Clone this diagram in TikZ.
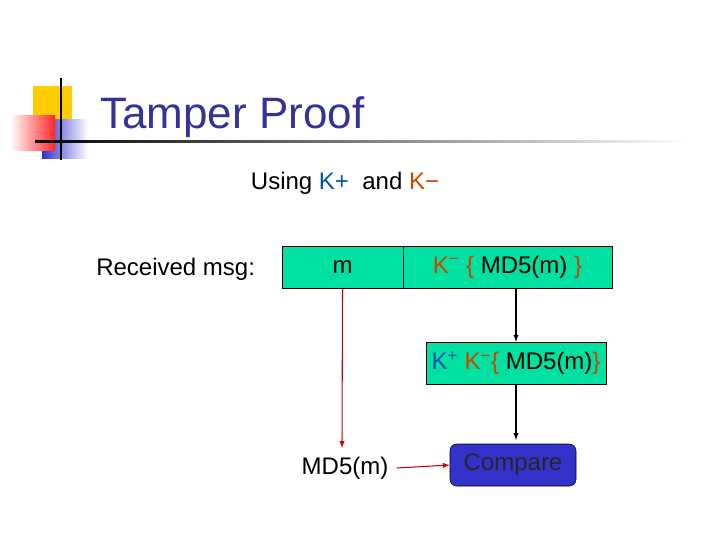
\documentclass[tikz,border=0pt]{standalone}
\usepackage{fontspec}
\setmainfont{Liberation Sans}
\begin{document}
\begin{tikzpicture}[x=0.75pt,y=-0.75pt,
  gbox/.style={draw,fill=green1,minimum height=31.5pt,inner sep=0pt,font=\fontsize{18}{21}\selectfont},
  arr/.style={-latex,thick},
  lbl/.style={font=\fontsize{18}{21}\selectfont,inner sep=0pt}]
\definecolor{green1}{HTML}{00E0A0}
\definecolor{titleblue}{HTML}{333399}
\definecolor{kred}{HTML}{CC4400}
\definecolor{kblue}{HTML}{0055AA}
\definecolor{cblue}{HTML}{3333CC}
\definecolor{gold}{HTML}{FFCC00}
\useasboundingbox (0,0) rectangle (720,540);
% logo
\fill[gold] (33,86) rectangle (72,125);
\shade[left color=cblue, right color=white] (42,119) rectangle (88,158);
\shade[left color=white, right color=red!85] (10,115) rectangle (55,150);
\draw[thick] (61,78) -- (61,160);
\shade[left color=black, right color=white] (35,140) rectangle (690,142);
\node[anchor=base west,text=titleblue,font=\fontsize{33}{38}\selectfont,inner sep=0pt] (title) at (100,128) {Tamper Proof};
\node[lbl,anchor=base] (using) at (345,189) {Using \textcolor{kblue}{K+}\ \ and \textcolor{kred}{K−}};
\node[lbl,anchor=base west] (rec) at (96,275) {Received msg:};
\node[gbox,minimum width=90.75pt] (m) at (342.5,267) {m};
\node[gbox,minimum width=156.75pt] (sig) at (507.5,267) {\textcolor{kred}{K\textsuperscript{−}\ \{} MD5(m) \textcolor{kred}{\}}};
\node[gbox,minimum width=135pt] (kk) at (516,363) {\textcolor{kblue}{K\textsuperscript{+}} \textcolor{kred}{K\textsuperscript{−}\{} MD5(m)\textcolor{kred}{\}}};
\node[draw,fill=cblue,rounded corners=5pt,minimum width=94.5pt,minimum height=31.5pt,inner sep=0pt,text=black!85,font=\fontsize{18}{21}\selectfont] (cmp) at (513,465) {Compare};
\node[lbl] (md) at (345,468) {MD5(m)};
\coordinate (mt) at (342,448);
\draw[arr,red!80!black] (m.south) -- (mt);
\draw[arr,red!80!black] (md.east) ++(8,0) coordinate (mds) (mds) -- (cmp.west);
\draw[arr] (516,288) coordinate (s1) (s1) -- (kk.north);
\draw[arr] (kk.south) -- (516,440) coordinate (c1);
\end{tikzpicture}
\end{document}
